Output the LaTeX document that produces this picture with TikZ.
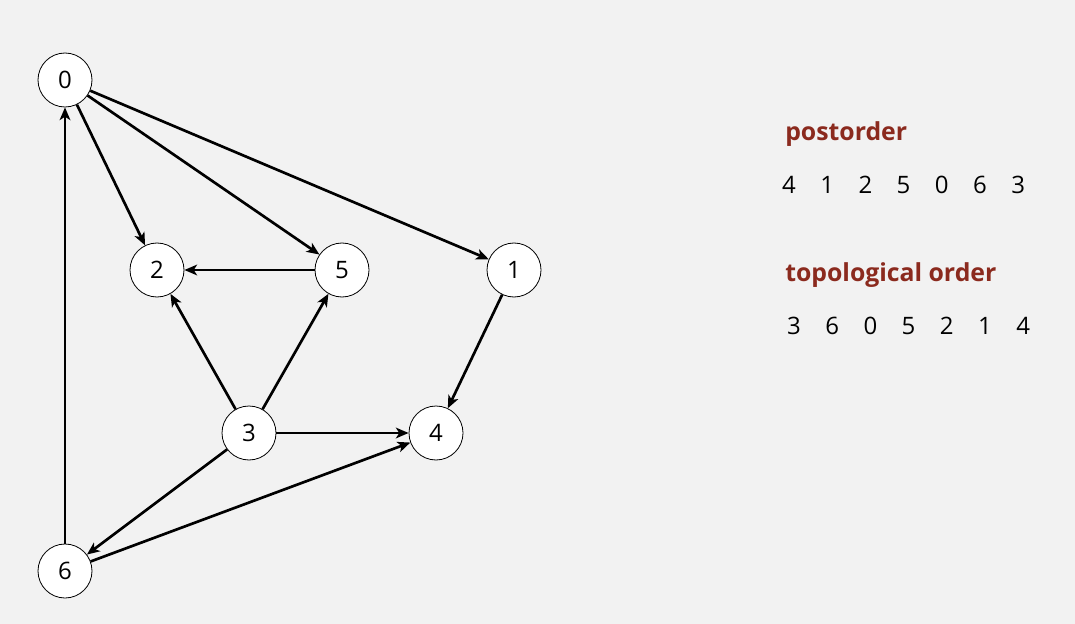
\documentclass[tikz,border=0pt]{standalone}
\usepackage{fontspec}
\setmainfont{Open Sans}
\usetikzlibrary{arrows.meta}
\definecolor{bgcol}{HTML}{F2F2F2}
\definecolor{headcol}{HTML}{8B2A1E}
\tikzset{
  vertex/.style = {circle, draw, fill=white, line width=0.6pt, minimum size=40.5pt, inner sep=0pt, font=\fontsize{18}{21}\selectfont},
  edge/.style = {line width=2pt, -{Stealth[length=9.5pt, width=8pt, inset=2.5pt]}},
  heading/.style = {anchor=west, inner sep=0pt, text=headcol, font=\fontsize{18.6}{22}\selectfont\bfseries},
  entry/.style = {text height=13pt, text depth=0pt, font=\fontsize{18}{21}\selectfont}
}
\begin{document}
\begin{tikzpicture}[x=0.75pt, y=-0.75pt]
   \fill[bgcol] (0,0) rectangle (1075,624);
   \useasboundingbox (0,0) rectangle (1075,624);
   % vertices
   \node[vertex] (v0) at (65,80) {0};
   \node[vertex] (v2) at (157,270) {2};
   \node[vertex] (v5) at (342,270) {5};
   \node[vertex] (v1) at (514,270) {1};
   \node[vertex] (v3) at (249,433) {3};
   \node[vertex] (v4) at (436,433) {4};
   \node[vertex] (v6) at (65,571) {6};
   % edges
   \draw[edge] (v0) -- (v2);
   \draw[edge] (v0) -- (v5);
   \draw[edge] (v0) -- (v1);
   \draw[edge] (v5) -- (v2);
   \draw[edge] (v1) -- (v4);
   \draw[edge] (v3) -- (v2);
   \draw[edge] (v3) -- (v5);
   \draw[edge] (v3) -- (v4);
   \draw[edge] (v3) -- (v6);
   \draw[edge] (v6) -- (v4);
   \draw[edge] (v6) -- (v0);
   % orders
   \node[heading] (post) at (785,134) {postorder};
   \foreach \d [count=\i from 0] in {4,1,2,5,0,6,3}
      \node[entry] (p\i) at (789+38.2*\i,185) {\d};
   \node[heading] (topo) at (785,275) {topological order};
   \foreach \d [count=\i from 0] in {3,6,0,5,2,1,4}
      \node[entry] (t\i) at (794+38.2*\i,326) {\d};
\end{tikzpicture}
\end{document}
